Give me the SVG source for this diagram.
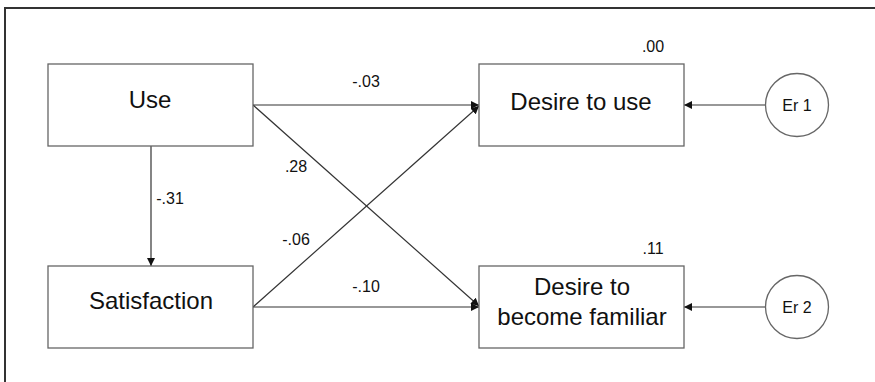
<svg xmlns="http://www.w3.org/2000/svg" width="875" height="382" viewBox="0 0 875 382">
<defs>
<marker id="ah" viewBox="0 0 10 10" refX="10" refY="5" markerWidth="8" markerHeight="8" markerUnits="userSpaceOnUse" orient="auto">
<path d="M0,0 L10,5 L0,10 z" fill="#111"/>
</marker>
</defs>
<style>
.box{fill:#fff;stroke:#666;stroke-width:1.3}
.lbl{font-family:"Liberation Sans",Arial,sans-serif;font-size:24px;fill:#111;text-anchor:middle}
.num{font-family:"Liberation Sans",Arial,sans-serif;font-size:16px;fill:#111;text-anchor:middle}
.edge{stroke:#333;stroke-width:1.2;fill:none;marker-end:url(#ah)}
</style>
<rect x="0" y="0" width="875" height="382" fill="#fff"/>
<path d="M5,382 L5,8 L875,8" fill="none" stroke="#333" stroke-width="2"/>
<g id="connectors">
<line class="edge" x1="151" y1="146" x2="151" y2="266"/>
<line class="edge" x1="253" y1="105" x2="479" y2="105"/>
<line class="edge" x1="253" y1="105" x2="479" y2="306"/>
<line class="edge" x1="253" y1="307" x2="479" y2="106"/>
<line class="edge" x1="253" y1="307" x2="479" y2="307"/>
<line class="edge" x1="765" y1="105" x2="684" y2="105"/>
<line class="edge" x1="765" y1="307" x2="684" y2="307"/>
</g>
<g id="use"><rect class="box" x="48" y="64" width="205" height="82"/><text class="lbl" x="150" y="108">Use</text></g>
<g id="satisfaction"><rect class="box" x="48" y="266" width="205" height="82"/><text class="lbl" x="151" y="309">Satisfaction</text></g>
<g id="desire-use"><rect class="box" x="479" y="64" width="205" height="82"/><text class="lbl" x="581" y="110">Desire to use</text></g>
<g id="desire-familiar"><rect class="box" x="479" y="266" width="205" height="82"/><text class="lbl" x="582" y="295">Desire to</text><text class="lbl" x="582" y="325">become familiar</text></g>
<g id="er1"><circle class="box" cx="797" cy="105" r="31.5"/><text class="num" x="797" y="111">Er 1</text></g>
<g id="er2"><circle class="box" cx="797" cy="307" r="31.5"/><text class="num" x="797" y="313">Er 2</text></g>
<g id="labels">
<text class="num" x="366" y="87">-.03</text>
<text class="num" x="653" y="52">.00</text>
<text class="num" x="170" y="204">-.31</text>
<text class="num" x="296" y="172">.28</text>
<text class="num" x="296" y="245">-.06</text>
<text class="num" x="366" y="292">-.10</text>
<text class="num" x="653" y="254">.11</text>
</g>
</svg>
